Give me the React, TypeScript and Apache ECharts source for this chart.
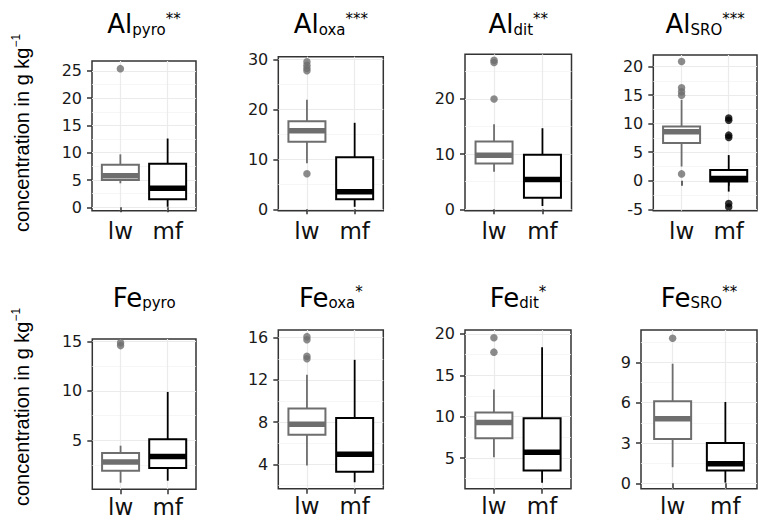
import React, { useEffect, useRef } from 'react';
import * as echarts from 'echarts';

// categories
const groups = ['lw', 'mf'];

// five-number summaries: [min whisker, Q1, median, Q3, max whisker]
const alPyroLw = [4.4, 5.0, 5.8, 7.8, 9.7];
const alPyroMf = [0.1, 1.5, 3.5, 8.0, 12.6];
const alPyroLwOut = [25.4];
const alPyroMfOut: number[] = [];

const alOxaLw = [9.2, 13.5, 15.7, 17.6, 21.9];
const alOxaMf = [0.5, 2.0, 3.5, 10.4, 17.3];
const alOxaLwOut = [7.1, 27.7, 28.2, 28.8, 29.5];
const alOxaMfOut: number[] = [];

const alDitLw = [6.8, 8.3, 9.8, 12.3, 15.4];
const alDitMf = [0.6, 2.1, 5.4, 9.9, 14.7];
const alDitLwOut = [20.0, 26.6, 27.0];
const alDitMfOut: number[] = [];

const alSroLw = [2.5, 6.6, 8.6, 9.5, 14.2];
const alSroMf = [-1.9, -0.15, 0.4, 1.9, 4.5];
const alSroLwOut = [1.2, 15.0, 15.6, 16.3, 20.9];
const alSroMfOut = [-4.6, -4.0, 7.6, 8.0, 10.6, 11.0];

const fePyroLw = [0.7, 1.9, 2.8, 3.7, 4.45];
const fePyroMf = [0.9, 2.2, 3.35, 5.1, 9.9];
const fePyroLwOut = [14.6, 14.9];
const fePyroMfOut: number[] = [];

const feOxaLw = [3.9, 6.8, 7.8, 9.3, 12.5];
const feOxaMf = [2.3, 3.3, 4.95, 8.4, 13.9];
const feOxaLwOut = [14.0, 14.25, 15.8, 16.1];
const feOxaMfOut: number[] = [];

const feDitLw = [5.1, 7.4, 9.3, 10.5, 13.3];
const feDitMf = [2.0, 3.5, 5.7, 9.8, 18.4];
const feDitLwOut = [17.8, 19.55];
const feDitMfOut: number[] = [];

const feSroLw = [1.2, 3.3, 4.8, 6.1, 8.9];
const feSroMf = [0.05, 0.95, 1.45, 3.0, 6.05];
const feSroLwOut = [10.8];
const feSroMfOut: number[] = [];

// tick labels (major) and minor grid values
const ticksAlPyro = [0, 5, 10, 15, 20, 25];
const minorAlPyro = [2.5, 7.5, 12.5, 17.5, 22.5];
const ticksAlOxa = [0, 10, 20, 30];
const minorAlOxa = [5, 15, 25];
const ticksAlDit = [0, 10, 20];
const minorAlDit = [5, 15, 25];
const ticksAlSro = [-5, 0, 5, 10, 15, 20];
const minorAlSro = [-2.5, 2.5, 7.5, 12.5, 17.5];
const ticksFePyro = [5, 10, 15];
const minorFePyro = [2.5, 7.5, 12.5];
const ticksFeOxa = [4, 8, 12, 16];
const minorFeOxa = [2, 6, 10, 14];
const ticksFeDit = [5, 10, 15, 20];
const minorFeDit = [2.5, 7.5, 12.5, 17.5];
const ticksFeSro = [0, 3, 6, 9];
const minorFeSro = [1.5, 4.5, 7.5, 10.5];

const titles = [
  ['Al', 'pyro', '**'], ['Al', 'oxa', '***'], ['Al', 'dit', '**'], ['Al', 'SRO', '***'],
  ['Fe', 'pyro', ''], ['Fe', 'oxa', '*'], ['Fe', 'dit', '*'], ['Fe', 'SRO', '**'],
];

const panelData = [
  { lw: alPyroLw, mf: alPyroMf, lwOut: alPyroLwOut, mfOut: alPyroMfOut, ticks: ticksAlPyro, minor: minorAlPyro },
  { lw: alOxaLw, mf: alOxaMf, lwOut: alOxaLwOut, mfOut: alOxaMfOut, ticks: ticksAlOxa, minor: minorAlOxa },
  { lw: alDitLw, mf: alDitMf, lwOut: alDitLwOut, mfOut: alDitMfOut, ticks: ticksAlDit, minor: minorAlDit },
  { lw: alSroLw, mf: alSroMf, lwOut: alSroLwOut, mfOut: alSroMfOut, ticks: ticksAlSro, minor: minorAlSro },
  { lw: fePyroLw, mf: fePyroMf, lwOut: fePyroLwOut, mfOut: fePyroMfOut, ticks: ticksFePyro, minor: minorFePyro },
  { lw: feOxaLw, mf: feOxaMf, lwOut: feOxaLwOut, mfOut: feOxaMfOut, ticks: ticksFeOxa, minor: minorFeOxa },
  { lw: feDitLw, mf: feDitMf, lwOut: feDitLwOut, mfOut: feDitMfOut, ticks: ticksFeDit, minor: minorFeDit },
  { lw: feSroLw, mf: feSroMf, lwOut: feSroLwOut, mfOut: feSroMfOut, ticks: ticksFeSro, minor: minorFeSro },
];

// layout: panel box [left, top, right, bottom] in px and y range
const layout = [
  { l: 92, t: 61, r: 196, b: 210.7, yMin: -0.62, yMax: 26.8 },
  { l: 278.3, t: 56.7, r: 383.3, b: 210.7, yMin: -0.28, yMax: 30.52 },
  { l: 465, t: 54.3, r: 571.5, b: 210.7, yMin: -0.25, yMax: 28.1 },
  { l: 653.3, t: 55, r: 757, b: 210.7, yMin: -5.25, yMax: 22.05 },
  { l: 92.3, t: 339, r: 196, b: 489.3, yMin: 0.03, yMax: 15.27 },
  { l: 278.3, t: 330, r: 383.3, b: 488.7, yMin: 1.69, yMax: 16.73 },
  { l: 465, t: 330, r: 571, b: 488.7, yMin: 1.29, yMax: 20.48 },
  { l: 641, t: 330, r: 757, b: 488.7, yMin: -0.4, yMax: 11.41 },
];

const GRAY = '#6e6e6e';
const BLACK = '#000000';
const FONT = 'DejaVu Sans';

export default function App() {
  const ref = useRef<HTMLDivElement>(null);

  useEffect(() => {
    if (!ref.current) return;
    const chart = echarts.init(ref.current, undefined, { renderer: 'svg' });

    const grids: any[] = [];
    const xAxes: any[] = [];
    const yAxes: any[] = [];
    const series: any[] = [];
    const graphics: any[] = [];

    layout.forEach((p, i) => {
      const d = panelData[i];
      const row = i < 4 ? 0 : 1;
      grids.push({
        left: p.l, top: p.t, width: p.r - p.l, height: p.b - p.t,
        show: true, borderColor: '#333333', borderWidth: 1.5, backgroundColor: '#ffffff',
        containLabel: false,
      });
      xAxes.push({
        gridIndex: i, type: 'value', min: 0.4, max: 2.6,
        axisLine: { show: false },
        axisTick: { show: true, customValues: [1, 2], length: 5, lineStyle: { color: '#333333', width: 1.5 } },
        axisLabel: {
          show: true, customValues: [1, 2], margin: row === 0 ? 9 : 6,
          formatter: (v: number) => groups[Math.round(v) - 1] ?? '',
          fontFamily: FONT, fontSize: 23, color: '#111111',
        },
        splitLine: { show: true, lineStyle: { color: '#ebebeb', width: 1.2 } },
      });
      yAxes.push({
        gridIndex: i, type: 'value', min: p.yMin, max: p.yMax,
        axisLine: { show: false },
        axisTick: { show: true, customValues: d.ticks, length: 5, lineStyle: { color: '#333333', width: 1.5 } },
        axisLabel: {
          show: true, customValues: d.ticks, margin: 10,
          fontFamily: FONT, fontSize: 16, color: '#1a1a1a',
        },
        splitLine: { show: true, lineStyle: { color: '#ebebeb', width: 1.2 } },
      });
      yAxes.push({
        gridIndex: i, type: 'value', min: p.yMin, max: p.yMax, position: 'left',
        axisLine: { show: false },
        axisTick: { show: false, customValues: d.minor },
        axisLabel: { show: false, customValues: d.minor },
        splitLine: { show: true, lineStyle: { color: '#f4f4f4', width: 0.8 } },
      });

      series.push({
        type: 'custom',
        xAxisIndex: i,
        yAxisIndex: 2 * i,
        z: 3,
        encode: { x: 0, y: [1, 2, 3, 4, 5] },
        data: [[1, ...d.lw], [2, ...d.mf]],
        renderItem: (params: any, api: any) => {
          const x = api.value(0);
          const pMin = api.coord([x, api.value(1)]);
          const pQ1 = api.coord([x, api.value(2)]);
          const pMed = api.coord([x, api.value(3)]);
          const pQ3 = api.coord([x, api.value(4)]);
          const pMax = api.coord([x, api.value(5)]);
          const cx = pMin[0];
          const w = 37;
          const color = params.dataIndex === 0 ? GRAY : BLACK;
          return {
            type: 'group',
            children: [
              { type: 'line', shape: { x1: cx, y1: pMax[1], x2: cx, y2: pQ3[1] }, style: { stroke: color, lineWidth: 1.8 } },
              { type: 'line', shape: { x1: cx, y1: pQ1[1], x2: cx, y2: pMin[1] }, style: { stroke: color, lineWidth: 1.8 } },
              { type: 'rect', shape: { x: cx - w / 2, y: pQ3[1], width: w, height: pQ1[1] - pQ3[1] }, style: { fill: '#ffffff', stroke: color, lineWidth: 2 } },
              { type: 'line', shape: { x1: cx - w / 2, y1: pMed[1], x2: cx + w / 2, y2: pMed[1] }, style: { stroke: color, lineWidth: 5.5 } },
            ],
          };
        },
      });
      series.push({
        type: 'scatter',
        xAxisIndex: i,
        yAxisIndex: 2 * i,
        z: 4,
        symbol: 'circle',
        symbolSize: 7.5,
        data: [
          ...d.lwOut.map((v) => ({ value: [1, v], itemStyle: { color: GRAY } })),
          ...d.mfOut.map((v) => ({ value: [2, v], itemStyle: { color: BLACK } })),
        ],
      });

      const t = titles[i];
      const baseY = row === 0 ? 33 : 306.5;
      graphics.push({
        type: 'text',
        x: (p.l + p.r) / 2,
        y: baseY - 22,
        style: {
          text: `{m|${t[0]}}{s|${t[1]}}` + (t[2] ? `{p|${t[2]}}` : ''),
          align: 'center',
          verticalAlign: 'top',
          fill: '#000000',
          rich: {
            m: { fontFamily: FONT, fontSize: 26, lineHeight: 26, verticalAlign: 'bottom', fill: '#000000' },
            s: { fontFamily: FONT, fontSize: 15, lineHeight: 15, verticalAlign: 'bottom', fill: '#000000' },
            p: { fontFamily: FONT, fontSize: 15, lineHeight: 22, verticalAlign: 'top', fill: '#000000' },
          },
        },
      });
    });

    [133, 407].forEach((cy) => {
      graphics.push({
        type: 'text',
        x: 21,
        y: cy,
        rotation: Math.PI / 2,
        style: {
          text: '{a|concentration in g kg}{b|\u22121}',
          align: 'center',
          verticalAlign: 'middle',
          fill: '#000000',
          rich: {
            a: { fontFamily: 'Liberation Sans', fontSize: 20, lineHeight: 22, verticalAlign: 'bottom', fill: '#000000' },
            b: { fontFamily: 'Liberation Sans', fontSize: 12, lineHeight: 12, verticalAlign: 'top', fill: '#000000' },
          },
        },
      });
    });

    chart.setOption({
      animation: false,
      backgroundColor: '#ffffff',
      grid: grids,
      xAxis: xAxes,
      yAxis: yAxes,
      series,
      graphic: graphics,
    });

    return () => chart.dispose();
  }, []);

  return (
    <div
      ref={ref}
      style={{ position: 'fixed', left: 0, top: 0, width: 758, height: 522, background: '#fff' }}
    />
  );
}
